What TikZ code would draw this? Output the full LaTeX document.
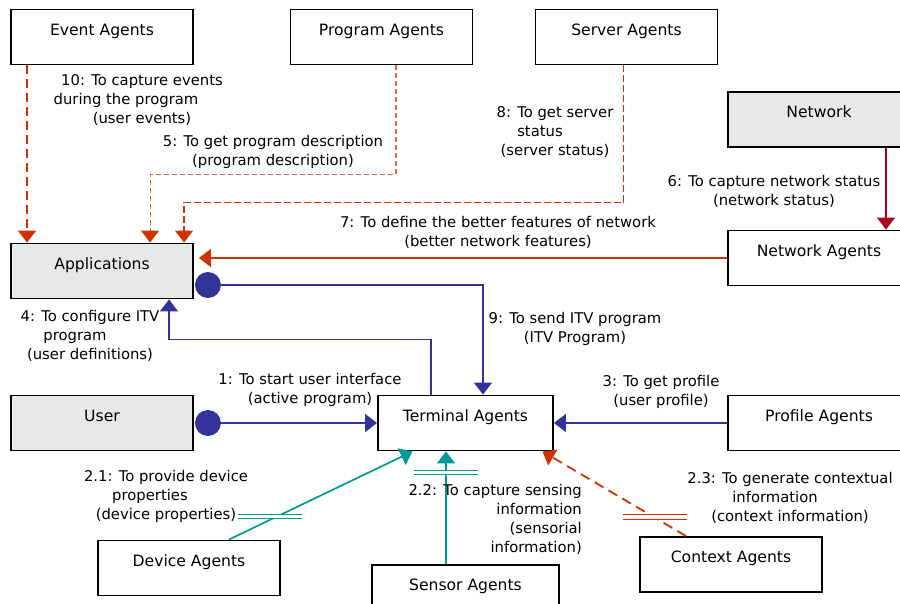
\documentclass[tikz,border=0pt]{standalone}
\usepackage{fontspec}
\setmainfont{DejaVu Sans}
\usetikzlibrary{arrows.meta}

\definecolor{flowred}{HTML}{CC3300}
\definecolor{lightred}{HTML}{E2673C}
\definecolor{netred}{HTML}{A50021}
\definecolor{flowblue}{HTML}{333399}
\definecolor{flowteal}{HTML}{009999}
\definecolor{boxgray}{HTML}{E8E8E8}

\newcommand{\lpad}[1]{\rule{#1}{0pt}}

\tikzset{
  agent/.style={draw, line width=1.9pt, minimum width=182pt, minimum height=55pt,
    text height=11pt, text depth=15pt, inner sep=0pt, font=\fontsize{15.6}{19}\selectfont},
  actor/.style={agent, fill=boxgray},
  msg/.style={align=center, inner sep=0pt},
  ball/.style={circle, fill=flowblue, minimum size=26pt, inner sep=0pt},
  tip/.style={-{Triangle[length=12pt,width=18pt]}},
  redflow/.style={tip, flowred, line width=1.8pt},
  blueflow/.style={tip, flowblue, line width=1.6pt},
  tealflow/.style={tip, flowteal, line width=1.7pt},
  bars/.style={double, double distance=3.5pt, line width=0.8pt}
}

\begin{document}
\begin{tikzpicture}[x=1pt,y=-1pt, every node/.style={font=\fontsize{14.8}{19}\selectfont}]
\useasboundingbox[fill=white] (0,0) rectangle (900,603);

% agents
\node[agent] (event) at (102,37) {Event Agents};
\node[agent] (program) at (381.5,37) {Program Agents};
\node[agent] (server) at (626.5,37) {Server Agents};
\node[actor] (network) at (819,119.5) {Network};
\node[agent] (netagents) at (819,258) {Network Agents};
\node[actor] (apps) at (102,271) {Applications};
\node[actor] (user) at (102,423) {User};
\node[agent, minimum width=175pt] (terminal) at (465.5,423) {Terminal Agents};
\node[agent] (profile) at (819,423) {Profile Agents};
\node[agent] (device) at (189,568) {Device Agents};
\node[agent, minimum width=187pt] (sensor) at (465.5,592.5) {Sensor Agents};
\node[agent] (context) at (731,564.5) {Context Agents};

\node[ball] (ball9) at ([xshift=14pt,yshift=-14pt]apps.east) {};
\node[ball] (ball1) at ([xshift=14pt]user.east) {};

% red flows to the applications
\draw[redflow, dash pattern=on 9pt off 5pt] ([xshift=17pt]event.south west) -- ([xshift=17pt]apps.north west);
\draw[-{Triangle[length=12pt,width=18pt,color=flowred]}, lightred, line width=1.1pt, dash pattern=on 5pt off 3pt]
  ([xshift=14.5pt]program.south) -- ++(0,109) -| ([xshift=140pt]apps.north west);
\draw[redflow, line width=1.5pt, dash pattern=on 7pt off 3pt] ([xshift=-3pt]server.south) -- ++(0,137)
  -| ([xshift=174pt]apps.north west);
\draw[redflow, line width=2pt, shorten >=5pt] (netagents.west) -- (netagents.west -| apps.east);
\draw[tip, netred, line width=1.7pt] ([xshift=67pt]network.south) -- ([xshift=67pt]netagents.north);

% blue flows
\draw[blueflow] (ball9.east) -| ([xshift=17.5pt]terminal.north);
\draw[blueflow] ([xshift=-34.5pt]terminal.north) -- ++(0,-55) -| ([xshift=67pt]apps.south);
\draw[blueflow] (ball1.east) -- (terminal.west);
\draw[blueflow] (profile.west) -- (terminal.east);

% flows from the sensing agents
\draw[tealflow] ([xshift=40pt]device.north) -- ([xshift=-53pt]terminal.south);
\draw[tealflow] ([xshift=-19.5pt]sensor.north) -- ([xshift=-19.5pt]terminal.south);
\draw[redflow, dash pattern=on 10pt off 6pt] ([xshift=-45pt]context.north) -- ([xshift=77pt]terminal.south);
\draw[bars, flowteal] (238,516.5) -- (302,516.5);
\draw[bars, flowteal] (414,472.5) -- (478,472.5);
\draw[bars, flowred] (623,517) -- (687,517);

% messages
\node[msg] (l10) at (142,100) {10: To capture events\\during the program\lpad{32pt}\\(user events)};
\node[msg] (l5) at (273,152) {5: To get program description\\(program description)};
\node[msg] (l8) at (555,132) {8: To get server\\status\lpad{30pt}\\(server status)};
\node[msg] (l6) at (774,191) {6: To capture network status\\(network status)};
\node[msg] (l7) at (498,232) {7: To define the better features of network\\(better network features)};
\node[msg] (l4) at (90,336) {4: To configure ITV\\program\lpad{30pt}\\(user definitions)};
\node[msg] (l9) at (575,329) {9: To send ITV program\\(ITV Program)};
\node[msg] (l1) at (310,390) {1: To start user interface\\(active program)};
\node[msg] (l3) at (661,392) {3: To get profile\\(user profile)};
\node[msg] (l21) at (166,496) {2.1: To provide device\\properties\lpad{32pt}\\(device properties)};
\node[msg, align=right, anchor=east] (l22) at (582,519.5) {2.2: To capture sensing\\information\\(sensorial\\information)};
\node[msg] (l23) at (790,498) {2.3: To generate contextual\\information\lpad{30pt}\\(context information)};
\end{tikzpicture}
\end{document}
